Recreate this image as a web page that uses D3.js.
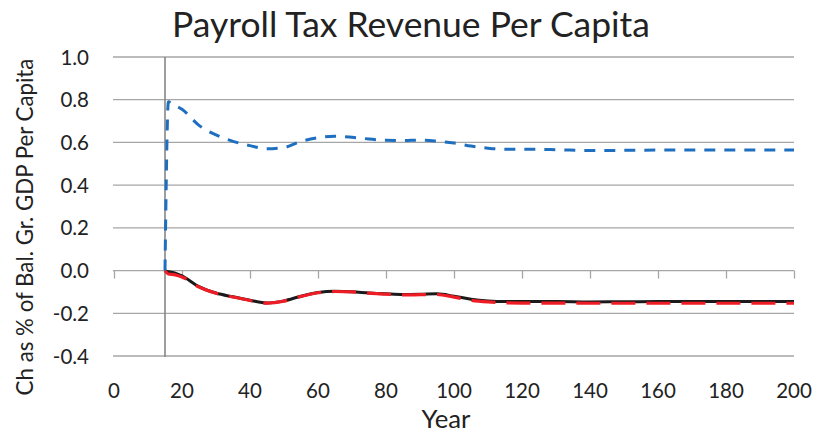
<!DOCTYPE html>
<html><head><meta charset="utf-8">
<script src="https://cdn.jsdelivr.net/npm/d3@7"></script>
<style>body{margin:0;background:#fff}svg{display:block}text{font-family:Lato,"Open Sans",sans-serif;fill:#222}</style>
</head><body>
<script>
const title = "Payroll Tax Revenue Per Capita";
const yTitle = "Ch as % of Bal. Gr. GDP Per Capita";
const xTitle = "Year";
const xTicks = [0,20,40,60,80,100,120,140,160,180,200];
const yTicks = [-0.4,-0.2,0,0.2,0.4,0.6,0.8,1.0];
const yTickLabels = ["-0.4","-0.2","0.0","0.2","0.4","0.6","0.8","1.0"];
const shockYear = 15;

const blueYears = [15,16,17,20,25,30,35,40,45,50,55,60,65,70,75,80,85,90,95,100,105,110,115,120,130,140,150,160,170,180,190,200];
const blueVals  = [0,0.79,0.78,0.755,0.68,0.635,0.605,0.585,0.57,0.576,0.605,0.622,0.629,0.624,0.616,0.61,0.609,0.611,0.606,0.597,0.583,0.573,0.568,0.568,0.566,0.562,0.563,0.564,0.564,0.564,0.564,0.564];

const lineYears = [15,16,18,20,25,30,35,40,45,50,55,60,65,70,75,80,85,90,95,100,105,110,115,120,130,140,150,160,170,180,190,200];
const blackVals = [0,-0.005,-0.012,-0.025,-0.075,-0.105,-0.123,-0.139,-0.152,-0.142,-0.12,-0.103,-0.097,-0.099,-0.105,-0.109,-0.112,-0.111,-0.109,-0.12,-0.134,-0.142,-0.145,-0.145,-0.145,-0.147,-0.146,-0.145,-0.145,-0.145,-0.145,-0.145];
const redVals   = [0,-0.016,-0.02,-0.03,-0.077,-0.106,-0.124,-0.14,-0.152,-0.143,-0.121,-0.104,-0.098,-0.1,-0.106,-0.11,-0.114,-0.113,-0.112,-0.124,-0.139,-0.147,-0.151,-0.152,-0.152,-0.153,-0.153,-0.153,-0.153,-0.153,-0.153,-0.153];

const W = 823, H = 435;
const svg = d3.select("body").append("svg").attr("width", W).attr("height", H);
const x = d3.scaleLinear().domain([0,200]).range([114,794]);
const y = d3.scaleLinear().domain([-0.4,1.0]).range([356,57]);

function fit(sel, target){
  const w = sel.node().getComputedTextLength();
  const fs = parseFloat(sel.attr("font-size"));
  sel.attr("font-size", fs*target/w);
}

// gridlines
svg.append("g").selectAll("line").data(yTicks).join("line")
  .attr("x1", x(0)-1).attr("x2", x(200)).attr("y1", d=>y(d)).attr("y2", d=>y(d))
  .attr("stroke", "#a6a6a6").attr("stroke-width", 1.3);

// x axis at zero with ticks down
const xAxis = d3.axisBottom(x).tickValues(xTicks).tickSize(8).tickFormat("");
svg.append("g").attr("transform", `translate(0,${y(0)})`).call(xAxis)
  .call(g=>{g.select(".domain").remove(); g.selectAll(".tick line").attr("stroke","#a6a6a6").attr("stroke-width",1.3);});

// vertical axis line at shock year
svg.append("line").attr("x1", x(shockYear)).attr("x2", x(shockYear)).attr("y1", y(1.0)).attr("y2", y(-0.4)+1)
  .attr("stroke", "#868686").attr("stroke-width", 1.6);

// x tick labels
svg.append("g").selectAll("text").data(xTicks).join("text")
  .attr("x", d=>x(d)).attr("y", 398).attr("text-anchor","middle").attr("font-size", 20.5)
  .text(d=>d);
// y tick labels
svg.append("g").selectAll("text").data(yTicks).join("text")
  .attr("x", 89).attr("y", d=>y(d)+7.5).attr("text-anchor","end").attr("font-size", 20.5)
  .text((d,i)=>yTickLabels[i]);

// lines
const line = d3.line().x(d=>x(d[0])).y(d=>y(d[1])).curve(d3.curveMonotoneX);
svg.append("path").datum(d3.zip(lineYears, blackVals)).attr("d", line)
  .attr("fill","none").attr("stroke","#1a1a1a").attr("stroke-width",3);
svg.append("path").datum(d3.zip(lineYears, redVals)).attr("d", line)
  .attr("fill","none").attr("stroke","#ee1c25").attr("stroke-width",3.2).attr("stroke-dasharray","24 11");
svg.append("path").datum(d3.zip(blueYears, blueVals)).attr("d", line)
  .attr("fill","none").attr("stroke","#1f6fc0").attr("stroke-width",3).attr("stroke-dasharray","11 9");

// titles
const t = svg.append("text").attr("x", 411).attr("y", 37).attr("text-anchor","middle").attr("font-size", 30).text(title);
fit(t, 478);
const xt = svg.append("text").attr("x", 446).attr("y", 428).attr("text-anchor","middle").attr("font-size", 23).text(xTitle);
fit(xt, 49);
const yt = svg.append("text").attr("transform","translate(33,227) rotate(-90)").attr("text-anchor","middle").attr("font-size", 21).text(yTitle);
fit(yt, 337);
</script>
</body></html>
